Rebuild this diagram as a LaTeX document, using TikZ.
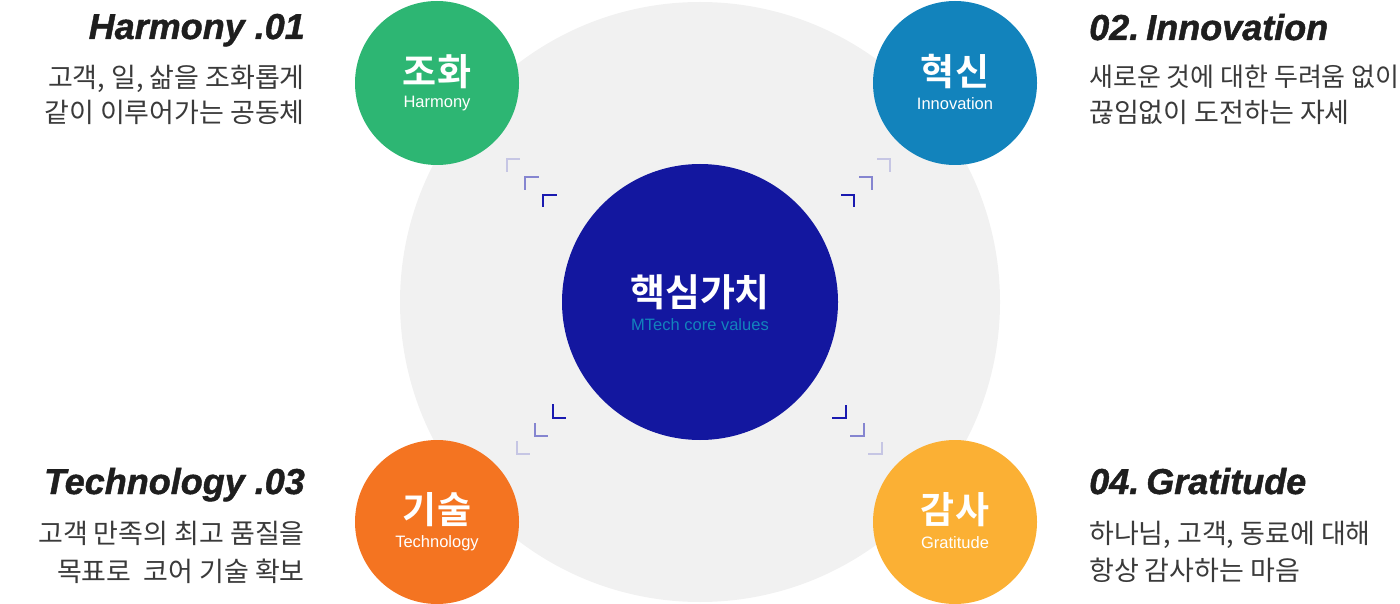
\documentclass[tikz,border=0pt]{standalone}
\usepackage{fontspec}
\newfontfamily\kr{Noto Sans CJK KR}
\newfontfamily\krb{Noto Sans CJK KR Bold}
\newfontfamily\head{Liberation Sans}[BoldItalicFeatures={FakeBold=1.2}]
\newfontfamily\lat{Liberation Sans}
\definecolor{bggray}{HTML}{F1F1F1}
\definecolor{navy}{HTML}{13179F}
\definecolor{cgreen}{HTML}{2DB673}
\definecolor{cblue}{HTML}{1283BC}
\definecolor{corange}{HTML}{F47421}
\definecolor{cyellow}{HTML}{FBB034}
\definecolor{txt}{HTML}{3A3A3A}
\definecolor{headc}{HTML}{1E1E1E}
\definecolor{brk}{HTML}{1A1AB0}
\tikzset{
  valuecircle/.style={circle, minimum size=164pt, inner sep=0pt},
  korlabel/.style={text=white, font=\krb\fontsize{37}{40}\selectfont},
  englabel/.style={text=white, font=\lat\fontsize{16.5}{18}\selectfont},
  headline/.style={text=headc, font=\head\bfseries\itshape\fontsize{36}{38}\selectfont, inner sep=0pt},
  bodyline/.style={text=txt, font=\kr\fontsize{27}{30}\selectfont, inner sep=0pt},
  bracket/.style={draw=brk, line width=2pt}
}
\begin{document}
\begin{tikzpicture}[x=1pt,y=-1pt]
\useasboundingbox (0,0) rectangle (1400,604);
% background circle
\node[circle, fill=bggray, minimum size=600pt, inner sep=0pt] (bg) at (700,302) {};
% core
\node[circle, fill=navy, minimum size=276pt, inner sep=0pt] (core) at (700,302) {};
\node[text=white, font=\krb\fontsize{38}{40}\selectfont] (coreK) at (700,292) {핵심가치};
\node[text=cblue, font=\lat\fontsize{16.5}{18}\selectfont] (coreE) at (700,325) {MTech core values};
% four values
\node[valuecircle, fill=cgreen] (harm) at (437,83) {};
\node[korlabel] (harmK) at (437,72) {조화};
\node[englabel] (harmE) at (437,104) {Harmony};
\node[valuecircle, fill=cblue] (inno) at (955,83) {};
\node[korlabel] (innoK) at (955,72) {혁신};
\node[englabel] (innoE) at (955,104) {Innovation};
\node[valuecircle, fill=corange] (tech) at (437,522) {};
\node[korlabel] (techK) at (437,510) {기술};
\node[englabel] (techE) at (437,543) {Technology};
\node[valuecircle, fill=cyellow] (grat) at (955,522) {};
\node[korlabel] (gratK) at (955,510) {감사};
\node[englabel] (gratE) at (955,543) {Gratitude};
% brackets top-left
\draw[bracket, draw opacity=0.2] (507,172) -- (507,159) -- (520,159);
\draw[bracket, draw opacity=0.5] (525,190) -- (525,177) -- (539,177);
\draw[bracket] (543,207) -- (543,195) -- (557,195);
% top-right
\draw[bracket, draw opacity=0.2] (877,159) -- (890,159) -- (890,172);
\draw[bracket, draw opacity=0.5] (859,177) -- (872,177) -- (872,190);
\draw[bracket] (841,195) -- (854,195) -- (854,207);
% bottom-left
\draw[bracket] (553,404) -- (553,418) -- (566,418);
\draw[bracket, draw opacity=0.5] (535,423) -- (535,436) -- (548,436);
\draw[bracket, draw opacity=0.2] (517,441) -- (517,454) -- (530,454);
% bottom-right
\draw[bracket] (846,405) -- (846,418) -- (832,418);
\draw[bracket, draw opacity=0.5] (864,423) -- (864,436) -- (850,436);
\draw[bracket, draw opacity=0.2] (882,442) -- (882,454) -- (868,454);
% texts top-left
\node[headline, anchor=base east] (h1) at (305,39) {Harmony .01};
\node[bodyline, anchor=base east] (b1a) at (305,88) {고객, 일, 삶을 조화롭게};
\node[bodyline, anchor=base east] (b1b) at (305,123) {같이 이루어가는 공동체};
% top-right
\node[headline, anchor=base west] (h2) at (1089,40) {02.\kern-3pt\ Innovation};
\node[bodyline, anchor=base west, font=\kr\fontsize{26}{30}\selectfont] (b2a) at (1089,87) {새로운 것에 대한 두려움 없이};
\node[bodyline, anchor=base west] (b2b) at (1089,123) {끊임없이 도전하는 자세};
% bottom-left
\node[headline, anchor=base east] (h3) at (305,494) {Technology .03};
\node[bodyline, anchor=base east] (b3a) at (305,543) {고객 만족의 최고 품질을};
\node[bodyline, anchor=base east] (b3b) at (305,581) {목표로 \ 코어 기술 확보};
% bottom-right
\node[headline, anchor=base west] (h4) at (1089,494) {04.\kern-3pt\ Gratitude};
\node[bodyline, anchor=base west] (b4a) at (1089,543) {하나님, 고객, 동료에 대해};
\node[bodyline, anchor=base west] (b4b) at (1089,580) {항상 감사하는 마음};
\end{tikzpicture}
\end{document}
